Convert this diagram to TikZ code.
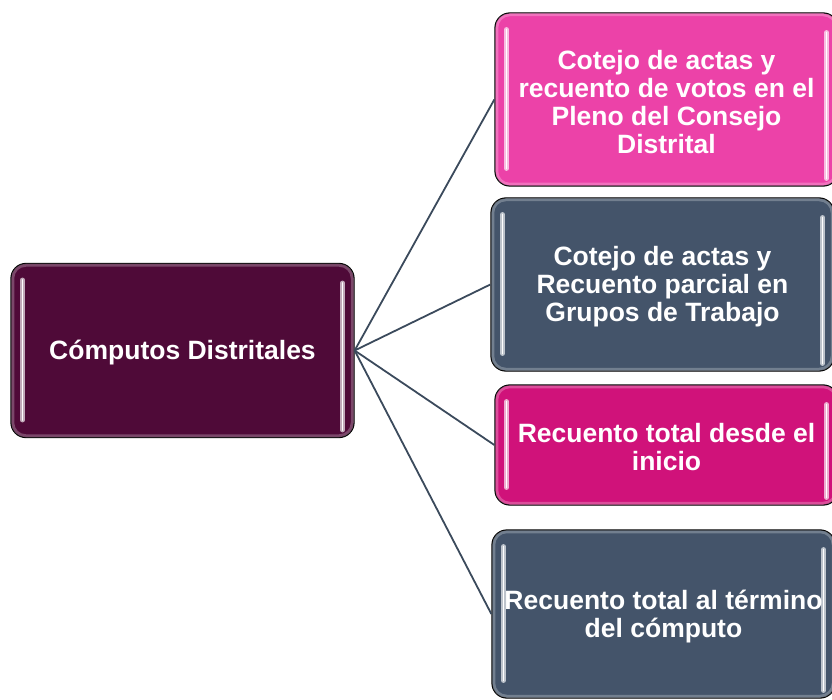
\documentclass[tikz,border=0pt]{standalone}
\usepackage{fontspec}
\setmainfont{Liberation Sans}
\definecolor{cpurple}{HTML}{4F0A38}
\definecolor{cpink}{HTML}{EC42A8}
\definecolor{cslate}{HTML}{44546A}
\definecolor{cmagenta}{HTML}{D0127A}
\definecolor{cline}{HTML}{3B4A5C}
\begin{document}
\begin{tikzpicture}[x=1pt,y=-1pt,
  box/.style={draw=black, line width=1.3pt, rounded corners=15pt, minimum width=343pt,
    text=white, align=center, inner sep=0pt,
    font=\bfseries\fontsize{26.5}{28}\selectfont},
  label/.style={box, draw=none, fill=none, yshift=-2.5pt},
  conn/.style={draw=cline, line width=1.8pt},
]
\useasboundingbox (0,0) rectangle (832,700);
\clip (0,0) rectangle (832,700);

\newcommand\glossbox[4]{% name, center, height, colour
  \node[box, fill=#4, minimum height=#3pt] (#1) at (#2) {};
  \draw[#4!50!white, line width=3pt, opacity=0.5, rounded corners=13pt]
    ([xshift=2.4pt,yshift=-2.4pt]#1.north west) rectangle ([xshift=-2.4pt,yshift=2.4pt]#1.south east);
  \draw[#4!35!white, line width=4.5pt, line cap=round]
    ([xshift=12pt,yshift=-17pt]#1.north west) -- ([xshift=12pt,yshift=18pt]#1.south west);
  \draw[white, line width=1.4pt, line cap=round]
    ([xshift=12pt,yshift=-17pt]#1.north west) -- ([xshift=12pt,yshift=18pt]#1.south west);
  \draw[#4!35!white, line width=4.5pt, line cap=round]
    ([xshift=-12pt,yshift=-20pt]#1.north east) -- ([xshift=-12pt,yshift=8pt]#1.south east);
  \draw[white, line width=1.4pt, line cap=round]
    ([xshift=-12pt,yshift=-20pt]#1.north east) -- ([xshift=-12pt,yshift=8pt]#1.south east);
}

\glossbox{L}{182.5,350.5}{174}{cpurple}
\glossbox{A}{666.5,99.5}{173}{cpink}
\glossbox{B}{662.5,284.5}{173}{cslate}
\glossbox{C}{666.5,445}{120}{cmagenta}
\glossbox{D}{663.5,614}{168}{cslate}

\node[label] (Lt) at (L) {Cómputos Distritales};
\node[label] (At) at (A) {Cotejo de actas y\\recuento de votos en el\\Pleno del Consejo\\Distrital};
\node[label] (Bt) at (B) {Cotejo de actas y\\Recuento parcial en\\Grupos de Trabajo};
\node[label] (Ct) at (C) {Recuento total desde el\\inicio};
\node[label] (Dt) at (D) {Recuento total al término\\del cómputo};

\draw[conn] (L.east) -- (A.west);
\draw[conn] (L.east) -- (B.west);
\draw[conn] (L.east) -- (C.west);
\draw[conn] (L.east) -- (D.west);
\end{tikzpicture}
\end{document}
